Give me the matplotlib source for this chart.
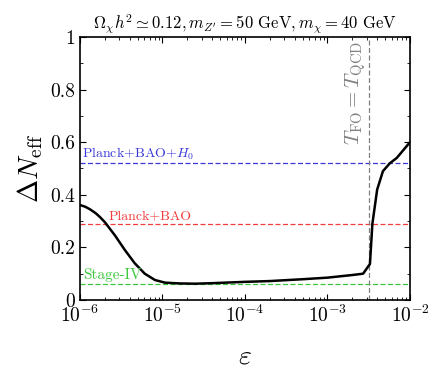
import numpy as np
import matplotlib
matplotlib.use('Agg')
import matplotlib.pyplot as plt
from matplotlib.ticker import LogLocator, MultipleLocator, NullFormatter

plt.rcParams['font.family'] = 'serif'
plt.rcParams['font.serif'] = ['cmr10', 'DejaVu Serif']
plt.rcParams['mathtext.fontset'] = 'cm'
plt.rcParams['axes.formatter.use_mathtext'] = True

# curve Delta N_eff vs epsilon
eps = [1e-6, 1.15e-6, 1.32e-6, 1.55e-6, 1.75e-6, 2.0e-6, 2.66e-6, 3.5e-6, 4.6e-6,
       6.1e-6, 8.1e-6, 1.07e-5, 1.6e-5, 2.5e-5, 4e-5, 1e-4, 2e-4, 5e-4, 1e-3,
       2e-3, 2.7e-3, 3.27e-3, 3.5e-3, 4.0e-3, 4.7e-3, 5.7e-3, 6.9e-3, 1e-2]
dneff = [0.361, 0.355, 0.345, 0.33, 0.315, 0.296, 0.245, 0.19, 0.14,
         0.10, 0.076, 0.066, 0.063, 0.062, 0.064, 0.069, 0.072, 0.079, 0.085,
         0.095, 0.10, 0.137, 0.29, 0.42, 0.49, 0.52, 0.54, 0.60]

# bounds
bound_vals = [0.52, 0.29, 0.06]
bound_names = ['Planck+BAO+$H_0$', 'Planck+BAO', 'Stage-IV']
bound_colors = ['#3a3ad8', '#f03c3c', '#3cc83c']
eps_qcd = 3.21e-3

fig = plt.figure(figsize=(4.31, 3.69), dpi=100)
ax = fig.add_axes([80 / 431, 1 - 300 / 369, 330 / 431, 263 / 369])

for v, c in zip(bound_vals, bound_colors):
    ax.axhline(v, color=c, ls='--', lw=0.9, dashes=(4, 2))
ax.axvline(eps_qcd, color='gray', ls='--', lw=0.9, dashes=(4, 2))
ax.plot(eps, dneff, color='black', lw=1.8)

ax.text(1.05e-6, 0.525, bound_names[0], color=bound_colors[0], fontsize=10, va='bottom')
ax.text(2.2e-6, 0.295, bound_names[1], color=bound_colors[1], fontsize=10, va='bottom')
ax.text(1.1e-6, 0.068, bound_names[2], color=bound_colors[2], fontsize=11, va='bottom')
ax.text(eps_qcd * 0.97, 0.985, r'$T_{\rm FO}=T_{\rm QCD}$', color='gray', fontsize=15,
        rotation=90, ha='right', va='top')

ax.set_xscale('log')
ax.set_xlim(1e-6, 1e-2)
ax.set_ylim(0, 1)
ax.xaxis.set_major_locator(LogLocator(base=10, numticks=10))
ax.xaxis.set_minor_locator(LogLocator(base=10, subs=np.arange(2, 10), numticks=20))
ax.xaxis.set_minor_formatter(NullFormatter())
ax.yaxis.set_minor_locator(MultipleLocator(0.1))
ax.set_yticks([0, 0.2, 0.4, 0.6, 0.8, 1])
ax.set_yticklabels(['0', '0.2', '0.4', '0.6', '0.8', '1'])
ax.tick_params(which='both', direction='in', top=True, right=True, labelsize=14)
ax.tick_params(which='major', length=4)
ax.tick_params(which='minor', length=2)
for s in ax.spines.values():
    s.set_linewidth(1.2)

ax.set_xlabel(r'$\varepsilon$', fontsize=20, labelpad=12)
ax.set_ylabel(r'$\Delta N_{\rm eff}$', fontsize=20, labelpad=4)
ax.set_title(r'$\Omega_\chi h^2 \simeq 0.12, m_{Z^\prime} = 50$ GeV$, m_\chi = 40$ GeV',
             fontsize=12, pad=6)

fig.savefig('out.png', dpi=100)
